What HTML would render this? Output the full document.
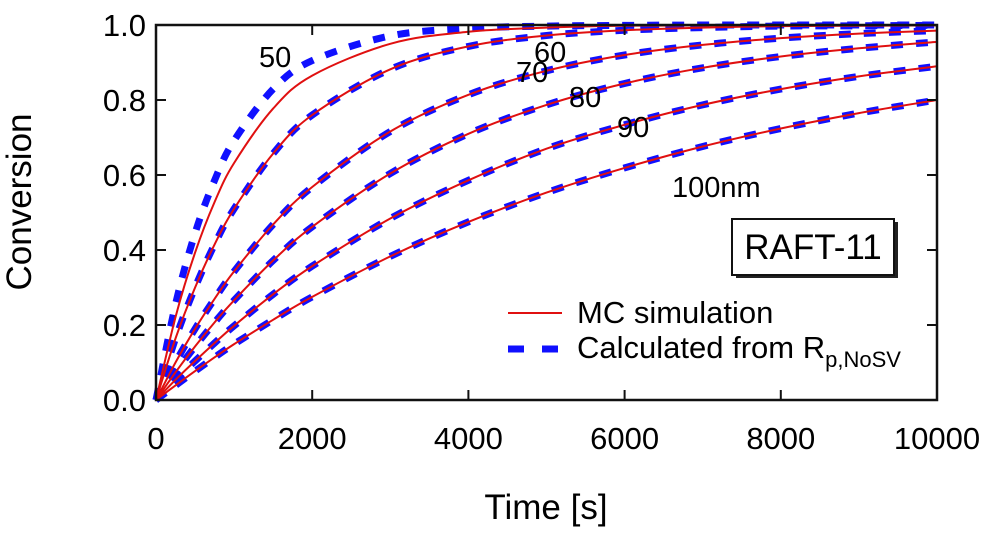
<!DOCTYPE html>
<html><head><meta charset="utf-8"><style>
body{margin:0;background:#fff;}
svg{display:block;font-family:"Liberation Sans",Arial,sans-serif;}
</style></head><body>
<svg id="chart" width="1000" height="536">
<g id="marks"></g>
<rect x="156" y="25" width="781" height="375" fill="none" stroke="#111" stroke-width="2.5"/>
<g id="axes"></g>
<text x="546" y="519" font-size="35" text-anchor="middle">Time [s]</text>
<text transform="translate(31,202) rotate(-90)" font-size="35" text-anchor="middle">Conversion</text>
<g font-size="29">
<text x="259" y="67">50</text>
<text x="534" y="62">60</text>
<text x="516" y="82">70</text>
<text x="569" y="107">80</text>
<text x="617" y="137">90</text>
<text x="672" y="197">100nm</text>
</g>
<g>
<rect x="736" y="222" width="162" height="56" fill="#222"/>
<rect x="732" y="219" width="162" height="56" fill="#fff" stroke="#111" stroke-width="2"/>
<text x="813" y="259" font-size="35" text-anchor="middle">RAFT-11</text>
</g>
<g>
<line x1="508" y1="313" x2="562" y2="313" stroke="#e01010" stroke-width="2"/>
<text x="577" y="323" font-size="31">MC simulation</text>
<line x1="508" y1="349" x2="560" y2="349" stroke="#1010ff" stroke-width="7" stroke-dasharray="16,18"/>
<text x="577" y="358" font-size="31">Calculated from R<tspan font-size="22" dy="9">p,NoSV</tspan></text>
</g>
</svg>
<script>
const times=[0,250,500,750,1000,1500,2000,3000,4000,5000,6000,7000,8000,9000,10000];
const mc50=[0,.221,.393,.528,.632,.777,.865,.950,.982,.993,.998,.999,1,1,1];
const calc50=[0,.255,.445,.586,.692,.829,.905,.971,.991,.997,.999,1,1,1,1];
const mc60=[0,.164,.30,.415,.51,.657,.76,.882,.943,.972,.986,.993,.997,.998,.999];
const mc70=[0,.10,.19,.27,.343,.468,.568,.716,.814,.878,.92,.947,.965,.977,.985];
const mc80=[0,.074,.143,.207,.266,.372,.462,.604,.71,.787,.844,.886,.916,.938,.955];
const mc90=[0,.054,.104,.152,.198,.282,.357,.484,.586,.67,.734,.787,.829,.863,.89];
const mc100=[0,.039,.077,.114,.149,.214,.275,.383,.475,.553,.619,.676,.724,.765,.80];
const calcSeries=[calc50,mc60,mc70,mc80,mc90,mc100];
const mcSeries=[mc50,mc60,mc70,mc80,mc90,mc100];
const sizes=["50","60","70","80","90","100"];
const xTicks=[0,2000,4000,6000,8000,10000];
const yTicks=[0,0.2,0.4,0.6,0.8,1.0];
const NS="http://www.w3.org/2000/svg";
function X(t){return 156+t/10000*781;}
function Y(v){return 400-v*375;}
const marks=document.getElementById('marks');
const axes=document.getElementById('axes');
function pathD(arr){
 const pts=arr.map((v,i)=>[X(times[i]),Y(v)]);
 let d='M'+pts[0][0].toFixed(1)+','+pts[0][1].toFixed(1);
 for(let i=0;i<pts.length-1;i++){
  const p0=pts[Math.max(0,i-1)],p1=pts[i],p2=pts[i+1],p3=pts[Math.min(pts.length-1,i+2)];
  const k=1/6;
  const c1=[p1[0]+(p2[0]-p0[0])*k,p1[1]+(p2[1]-p0[1])*k];
  const c2=[p2[0]-(p3[0]-p1[0])*k,p2[1]-(p3[1]-p1[1])*k];
  d+='C'+c1[0].toFixed(1)+','+c1[1].toFixed(1)+' '+c2[0].toFixed(1)+','+c2[1].toFixed(1)+' '+p2[0].toFixed(1)+','+p2[1].toFixed(1);
 }
 return d;
}
calcSeries.forEach((s,k)=>{
 const p=document.createElementNS(NS,'path');
 p.setAttribute('d',pathD(s));p.setAttribute('fill','none');p.setAttribute('stroke','#1010ff');
 p.setAttribute('stroke-width','7');p.setAttribute('stroke-dasharray','12,13');p.setAttribute('stroke-linejoin','round');
 
 
 marks.appendChild(p);
});
mcSeries.forEach((s,k)=>{
 const p=document.createElementNS(NS,'path');
 p.setAttribute('d',pathD(s));p.setAttribute('fill','none');p.setAttribute('stroke','#e01010');p.setAttribute('stroke-width','2');
 
 
 marks.appendChild(p);
});
xTicks.forEach(t=>{
 [[400,390],[25,35]].forEach(([a,b])=>{
  const l=document.createElementNS(NS,'line');
  l.setAttribute('x1',X(t));l.setAttribute('x2',X(t));l.setAttribute('y1',a);l.setAttribute('y2',b);
  l.setAttribute('stroke','#111');l.setAttribute('stroke-width','2');
  
  
  axes.appendChild(l);
 });
 const tx=document.createElementNS(NS,'text');
 tx.setAttribute('x',X(t));tx.setAttribute('y',449);tx.setAttribute('font-size','31');tx.setAttribute('text-anchor','middle');
 tx.textContent=t;
 
 
 axes.appendChild(tx);
});
yTicks.forEach(v=>{
 [[156,166],[937,927]].forEach(([a,b])=>{
  const l=document.createElementNS(NS,'line');
  l.setAttribute('x1',a);l.setAttribute('x2',b);l.setAttribute('y1',Y(v));l.setAttribute('y2',Y(v));
  l.setAttribute('stroke','#111');l.setAttribute('stroke-width','2');
  
  
  axes.appendChild(l);
 });
 const tx=document.createElementNS(NS,'text');
 tx.setAttribute('x',146);tx.setAttribute('y',Y(v)+11);tx.setAttribute('font-size','31');tx.setAttribute('text-anchor','end');
 tx.textContent=v.toFixed(1);
 
 
 axes.appendChild(tx);
});
</script>
</body></html>
